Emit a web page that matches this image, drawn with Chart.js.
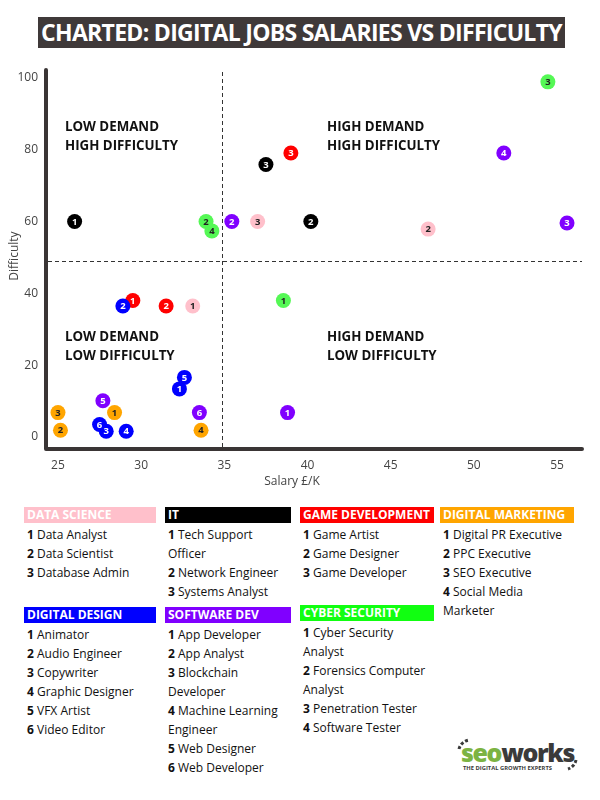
<!DOCTYPE html>
<html>
<head>
<meta charset="utf-8">
<script src="https://cdn.jsdelivr.net/npm/chart.js@4.4.1/dist/chart.umd.min.js"></script>
<style>
  html,body{margin:0;padding:0;background:#fff;}
  body{width:600px;height:800px;position:relative;overflow:hidden;font-family:"Open Sans",sans-serif;color:#111;}
  #title{position:absolute;left:38px;top:17px;width:527px;height:31px;background:#3f3939;color:#fff;
    font-weight:700;font-size:23px;line-height:31px;text-align:center;letter-spacing:-0.7px;white-space:nowrap;}
  #chartBox{position:absolute;left:0;top:60px;width:600px;height:440px;}
  .col{position:absolute;width:140px;}
  .hdr{height:16px;line-height:16px;font-size:12px;font-weight:700;color:#fff;padding-left:3px;white-space:nowrap;}
  .item{font-size:12px;line-height:19px;height:19px;white-space:nowrap;padding-left:3px;}
  .item b{font-weight:700;}
  #logo{position:absolute;left:452px;top:732px;width:132px;height:46px;}
</style>
</head>
<body>
<div id="title">CHARTED: DIGITAL JOBS SALARIES VS DIFFICULTY</div>
<div id="chartBox"><canvas id="c"></canvas></div>
<div id="legend"></div>
<svg id="logo" viewBox="0 0 132 46" xmlns="http://www.w3.org/2000/svg">
  <path d="M7 17 A 12 12 0 0 1 17 8" fill="none" stroke="#3a3a3a" stroke-width="3" stroke-dasharray="3 2"/>
  <path d="M124 28 A 12 12 0 0 1 116 37" fill="none" stroke="#3a3a3a" stroke-width="3" stroke-dasharray="3 2"/>
  <text x="9" y="30" font-family="Open Sans" font-weight="800" font-size="25" letter-spacing="-1.4"><tspan fill="#7cb342">seo</tspan><tspan fill="#3a3a3a">works</tspan></text>
  <text x="11" y="38" font-family="Open Sans" font-weight="700" font-size="5.8" fill="#3a3a3a">THE DIGITAL GROWTH EXPERTS</text>
</svg>
<script>
// ---------- data ----------
const categories = ['DATA SCIENCE','IT','GAME DEVELOPMENT','DIGITAL MARKETING','DIGITAL DESIGN','SOFTWARE DEV','CYBER SECURITY'];
const catColors  = ['#ffc0cb','#000000','#ff0000','#ffa500','#0000ff','#8000ff','#55f855'];
const hdrColors  = ['#ffc0cb','#000000','#ff0000','#ffa500','#0000ff','#8000ff','#11ff11'];
const numColors  = ['#222','#fff','#fff','#222','#fff','#fff','#222'];

const dataScienceX = [33.1, 47.25, 37.0];
const dataScienceY = [36.5, 57.9, 60];
const itX = [26.0, 40.2, 37.5];
const itY = [60, 60, 75.9];
const gameX = [29.5, 31.5, 39.0];
const gameY = [38, 36.5, 79.1];
const marketingX = [28.4, 25.15, 25.0, 33.6];
const marketingY = [6.8, 1.9, 6.8, 1.9];
const designX = [32.3, 28.9, 27.9, 29.1, 32.6, 27.5];
const designY = [13.4, 36.5, 1.6, 1.6, 16.6, 3.5];
const softwareX = [38.8, 35.45, 55.6, 51.8, 27.7, 33.5];
const softwareY = [6.8, 60, 59.6, 79.1, 10.1, 6.8];
const cyberX = [38.55, 33.9, 54.45, 34.25];
const cyberY = [38, 60, 98.9, 57.4];

const seriesX = [dataScienceX, itX, gameX, marketingX, designX, softwareX, cyberX];
const seriesY = [dataScienceY, itY, gameY, marketingY, designY, softwareY, cyberY];

const xTicks = [25, 30, 35, 40, 45, 50, 55];
const yTicks = [0, 20, 40, 60, 80, 100];
const xDivider = 34.85;
const yDivider = 49;

const quadrantLabels = [
  ['LOW DEMAND', 'HIGH DIFFICULTY'],
  ['HIGH DEMAND', 'HIGH DIFFICULTY'],
  ['LOW DEMAND', 'LOW DIFFICULTY'],
  ['HIGH DEMAND', 'LOW DIFFICULTY']
];
const quadrantAnchorX = [25.42, 41.17, 25.42, 41.17];
const quadrantAnchorY = [86.2, 86.2, 27.7, 27.7];

const jobTitles = [
  [['1','Data Analyst'],['2','Data Scientist'],['3','Database Admin']],
  [['1','Tech Support'],['','Officer'],['2','Network Engineer'],['3','Systems Analyst']],
  [['1','Game Artist'],['2','Game Designer'],['3','Game Developer']],
  [['1','Digital PR Executive'],['2','PPC Executive'],['3','SEO Executive'],['4','Social Media'],['','Marketer']],
  [['1','Animator'],['2','Audio Engineer'],['3','Copywriter'],['4','Graphic Designer'],['5','VFX Artist'],['6','Video Editor']],
  [['1','App Developer'],['2','App Analyst'],['3','Blockchain'],['','Developer'],['4','Machine Learning'],['','Engineer'],['5','Web Designer'],['6','Web Developer']],
  [['1','Cyber Security'],['','Analyst'],['2','Forensics Computer'],['','Analyst'],['3','Penetration Tester'],['4','Software Tester']]
];

// ---------- legend (HTML) ----------
const legendPos = [[24,507],[165,507],[300,507],[440,507],[24,607],[165,607],[300,605]];
const legendWidths = [132,126,134,134,132,126,134];
const legend = document.getElementById('legend');
categories.forEach((cat, i) => {
  const col = document.createElement('div');
  col.className = 'col';
  col.style.left = legendPos[i][0] + 'px';
  col.style.top = legendPos[i][1] + 'px';
  const h = document.createElement('div');
  h.className = 'hdr';
  h.style.background = hdrColors[i];
  h.style.width = (legendWidths[i] - 3) + 'px';
  h.textContent = cat;
  col.appendChild(h);
  const spacer = document.createElement('div');
  spacer.style.height = '2px';
  col.appendChild(spacer);
  jobTitles[i].forEach(([n, t]) => {
    const it = document.createElement('div');
    it.className = 'item';
    it.innerHTML = (n ? '<b>' + n + '</b> ' : '') + t;
    col.appendChild(it);
  });
  legend.appendChild(col);
});

// ---------- chart ----------
const datasets = categories.map((cat, i) => ({
  label: cat,
  data: seriesX[i].map((x, j) => ({x: x, y: seriesY[i][j]})),
  backgroundColor: catColors[i],
  borderWidth: 0,
  pointRadius: 7.5,
  pointHoverRadius: 7.5,
  order: categories.length - i
}));

const overlayPlugin = {
  id: 'overlay',
  beforeDatasetsDraw(chart) {
    const {ctx, chartArea, scales: {x, y}} = chart;
    ctx.save();
    // axis lines
    ctx.strokeStyle = '#3a3535';
    ctx.lineWidth = 4;
    ctx.lineJoin = 'round';
    ctx.lineCap = 'round';
    ctx.beginPath();
    ctx.moveTo(chartArea.left - 1, chartArea.top);
    ctx.lineTo(chartArea.left - 1, chartArea.bottom + 1);
    ctx.lineTo(chartArea.right, chartArea.bottom + 1);
    ctx.stroke();
    // dividers
    ctx.strokeStyle = '#333';
    ctx.lineWidth = 1;
    ctx.lineCap = 'butt';
    ctx.setLineDash([4, 3]);
    const vx = Math.round(x.getPixelForValue(xDivider)) + 0.5;
    ctx.beginPath(); ctx.moveTo(vx, chartArea.top + 2); ctx.lineTo(vx, chartArea.bottom - 1); ctx.stroke();
    const hy = Math.round(y.getPixelForValue(yDivider)) + 0.5;
    ctx.beginPath(); ctx.moveTo(chartArea.left + 1, hy); ctx.lineTo(chartArea.right, hy); ctx.stroke();
    ctx.setLineDash([]);
    // quadrant labels
    ctx.fillStyle = '#111';
    ctx.font = '700 13.3px "Open Sans"';
    ctx.textAlign = 'left';
    ctx.textBaseline = 'middle';
    quadrantLabels.forEach((lines, q) => {
      const px = x.getPixelForValue(quadrantAnchorX[q]);
      const py = y.getPixelForValue(quadrantAnchorY[q]);
      lines.forEach((ln, k) => ctx.fillText(ln, px, py + k * 19));
    });
    // axis titles
    ctx.fillStyle = '#444';
    ctx.font = '12px "Open Sans"';
    ctx.textAlign = 'center';
    ctx.fillText('Salary £/K', 292, chartArea.bottom + 34);
    ctx.save();
    ctx.translate(15, chartArea.top + 186);
    ctx.rotate(-Math.PI / 2);
    ctx.fillText('Difficulty', 0, 0);
    ctx.restore();
    ctx.restore();
  },
  afterDatasetsDraw(chart) {
    const {ctx} = chart;
    ctx.save();
    ctx.font = '700 9.5px "Open Sans"';
    ctx.textAlign = 'center';
    ctx.textBaseline = 'middle';
    chart.data.datasets.forEach((ds, i) => {
      const meta = chart.getDatasetMeta(i);
      ctx.fillStyle = numColors[i];
      meta.data.forEach((pt, j) => {
        ctx.fillText(String(j + 1), pt.x, pt.y + 0.5);
      });
    });
    ctx.restore();
  }
};

new Chart(document.getElementById('c'), {
  type: 'scatter',
  data: {datasets},
  plugins: [overlayPlugin],
  options: {
    responsive: true,
    maintainAspectRatio: false,
    animation: false,
    devicePixelRatio: 1,
    layout: {padding: {top: 10, right: 18, left: 0, bottom: 0}},
    plugins: {legend: {display: false}, tooltip: {enabled: false}},
    scales: {
      x: {
        type: 'linear', min: 24.34, max: 56.5,
        afterFit(s) { s.height = 52; s.paddingLeft = 0; s.paddingRight = 0; },
        afterBuildTicks(s) { s.ticks = xTicks.map(v => ({value: v})); },
        grid: {display: false, drawTicks: false},
        border: {display: false},
        ticks: {color: '#444', font: {family: 'Open Sans', size: 12}, padding: 10, maxRotation: 0}
      },
      y: {
        type: 'linear', min: -3.06, max: 102.2,
        afterFit(s) { s.width = 47; s.paddingTop = 0; s.paddingBottom = 0; },
        afterBuildTicks(s) { s.ticks = yTicks.map(v => ({value: v})); },
        grid: {display: false, drawTicks: false},
        border: {display: false},
        ticks: {color: '#444', font: {family: 'Open Sans', size: 12}, padding: 9}
      }
    }
  }
});
</script>
</body>
</html>
